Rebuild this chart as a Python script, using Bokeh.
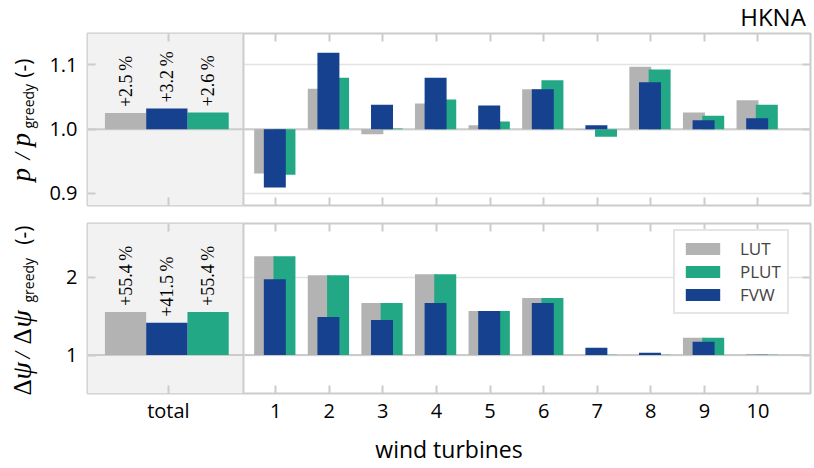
import numpy as np
from bokeh.plotting import figure
from bokeh.layouts import column, row
from bokeh.core.properties import value
from bokeh.models import (Range1d, FixedTicker, LinearAxis, BoxAnnotation, Span,
                          Legend, LegendItem, LabelSet, ColumnDataSource,
                          PrintfTickFormatter)
from bokeh.embed import file_html
from bokeh.resources import INLINE

# ---------------- data ----------------
turbines = ["1", "2", "3", "4", "5", "6", "7", "8", "9", "10"]
methods = ["LUT", "PLUT", "FVW"]

power_total = {"LUT": 1.025, "PLUT": 1.026, "FVW": 1.032}
power_LUT = [0.931, 1.063, 0.992, 1.040, 1.006, 1.062, 0.999, 1.097, 1.026, 1.045]
power_PLUT = [0.929, 1.080, 1.001, 1.046, 1.012, 1.076, 0.988, 1.093, 1.021, 1.038]
power_FVW = [0.909, 1.119, 1.038, 1.080, 1.037, 1.062, 1.006, 1.073, 1.014, 1.017]

yaw_total = {"LUT": 1.554, "PLUT": 1.554, "FVW": 1.415}
yaw_LUT = [2.268, 2.026, 1.668, 2.038, 1.566, 1.732, 1.000, 1.000, 1.221, 1.000]
yaw_PLUT = [2.268, 2.026, 1.668, 2.038, 1.566, 1.732, 1.003, 1.003, 1.221, 1.005]
yaw_FVW = [1.974, 1.489, 1.451, 1.668, 1.566, 1.668, 1.094, 1.030, 1.170, 1.005]

power_ticks = [0.9, 1.0, 1.1]
yaw_ticks = [1, 2]
total_label = "total"
title_text = "HKNA"
xlabel = "wind turbines"

colors = {"LUT": "#b3b3b3", "PLUT": "#22a884", "FVW": "#15418f"}

# ---------------- layout constants ----------------
FONT = "Open Sans"
SERIF = "Liberation Serif"
GRID = "#cccccc"
xpos = np.arange(1, len(turbines) + 1)
total_x = -1.0
div_x = 0.40
bar_w = 0.41
offs = {"LUT": -0.195, "PLUT": 0.165, "FVW": -0.015}
tot_w = 0.77
tot_offs = {"LUT": -0.80, "FVW": -0.03, "PLUT": 0.74}
x_range = Range1d(-2.51, 10.98)
LBL_W = 40
MAIN_W = 773
H0, H1, H2 = 31, 183, 253


def blank_fig(width, height):
    f = figure(width=width, height=height, x_range=Range1d(0, width),
               y_range=Range1d(0, height), output_backend="svg", toolbar_location=None,
               min_border=0, x_axis_location=None, y_axis_location=None)
    f.outline_line_color = None
    f.xgrid.grid_line_color = None
    f.ygrid.grid_line_color = None
    f.background_fill_color = "white"
    f.border_fill_color = "white"
    return f


def make_panel(height, ylo, yhi, yticks, border_top, border_bottom, show_x_labels, yfmt=None):
    p = figure(width=MAIN_W, height=height, x_range=x_range, y_range=Range1d(ylo, yhi),
               output_backend="svg", toolbar_location=None,
               min_border_left=47, min_border_right=3,
               min_border_top=border_top, min_border_bottom=border_bottom,
               x_axis_location=None, y_axis_location=None)
    p.outline_line_color = GRID
    p.outline_line_width = 2
    p.background_fill_color = "white"
    p.border_fill_color = "white"
    xt = FixedTicker(ticks=[total_x] + list(xpos))
    yt = FixedTicker(ticks=yticks)
    for side in ["left", "right", "above", "below"]:
        ax = LinearAxis(ticker=yt if side in ("left", "right") else xt)
        ax.axis_line_color = None
        ax.major_tick_in = 8
        ax.major_tick_out = 0
        ax.major_tick_line_color = GRID
        ax.major_tick_line_width = 2
        ax.minor_tick_line_color = None
        ax.major_label_text_font = FONT
        ax.major_label_text_font_size = "20px"
        ax.major_label_text_color = "black"
        if side == "left":
            ax.major_label_standoff = 10
            if yfmt is not None:
                ax.formatter = PrintfTickFormatter(format=yfmt)
        elif side == "below" and show_x_labels:
            ax.major_label_standoff = 3
            ax.major_label_overrides = {total_x: total_label}
            ax.axis_label = xlabel
            ax.axis_label_text_font = FONT
            ax.axis_label_text_font_size = "23px"
            ax.axis_label_text_font_style = "normal"
            ax.axis_label_text_color = "black"
            ax.axis_label_standoff = 6
        else:
            ax.major_label_text_font_size = "0px"
            ax.major_label_standoff = 0
        p.add_layout(ax, side)
    p.xgrid.grid_line_color = None
    p.ygrid.ticker = yt
    p.ygrid.grid_line_color = "#e3e3e3"
    p.ygrid.grid_line_width = 1.5
    p.add_layout(BoxAnnotation(right=div_x, fill_color="#f2f2f2", fill_alpha=1,
                               line_color=None, level="underlay"))
    p.add_layout(Span(location=1.0, dimension="width", line_color=GRID,
                      line_width=2, level="underlay"))
    p.add_layout(Span(location=div_x, dimension="height", line_color=GRID,
                      line_width=2, level="underlay"))
    return p


def add_bars(p, totals, series):
    rends = {}
    for m in methods:
        r = p.vbar(x=list(xpos + offs[m]), width=bar_w, bottom=1.0, top=series[m],
                   fill_color=colors[m], line_color=None)
        p.vbar(x=[total_x + tot_offs[m]], width=tot_w, bottom=1.0, top=[totals[m]],
               fill_color=colors[m], line_color=None)
        rends[m] = r
    src = ColumnDataSource(dict(
        x=[total_x + tot_offs[m] for m in methods],
        y=[totals[m] for m in methods],
        t=["+%.1f\u2009%%" % ((totals[m] - 1) * 100) for m in methods]))
    p.add_layout(LabelSet(x="x", y="y", text="t", source=src, angle=np.pi / 2,
                          text_align="left", text_baseline="middle", y_offset=6,
                          text_font=FONT, text_font_size="18px", text_color="black"))
    return rends


def label_fig(height, parts):
    # parts: text, baseline x (page px), start/end y (page px from fig top), font, size, style, align
    f = blank_fig(LBL_W, height)
    for txt, bx, y, font, size, style, align in parts:
        mid_x = bx - 0.3 * size
        f.text(x=[mid_x], y=[y], text=[txt], angle=np.pi / 2, text_font=value(font),
               text_font_size="%dpx" % size, text_font_style=style, text_align=align,
               text_baseline="middle", text_color="black")
    return f


# header with the title (page y 0..31)
h0 = blank_fig(MAIN_W, H0)
h0.text(x=[MAIN_W - 5], y=[H0 - 15.5], text=[title_text], text_align="right",
        text_baseline="middle", text_font=value(FONT), text_font_size="24px",
        text_color="black")

# top panel: frame page y 33..205
p1 = make_panel(H1, 0.881, 1.149, power_ticks, 2, 9, False, yfmt="%.1f")
add_bars(p1, power_total, {"LUT": power_LUT, "PLUT": power_PLUT, "FVW": power_FVW})

# bottom panel: frame page y 223..394
p2 = make_panel(H2, 0.506, 2.69, yaw_ticks, 9, 73, True)
rends = add_bars(p2, yaw_total, {"LUT": yaw_LUT, "PLUT": yaw_PLUT, "FVW": yaw_FVW})
legend = Legend(items=[LegendItem(label=m, renderers=[rends[m]]) for m in methods],
                location=(586, 79))
legend.border_line_color = GRID
legend.border_line_width = 2
legend.background_fill_color = "white"
legend.background_fill_alpha = 1
legend.label_text_font = FONT
legend.label_text_font_size = "17px"
legend.glyph_width = 43
legend.glyph_height = 15
legend.label_height = 22
legend.label_standoff = 16
legend.spacing = 0
legend.padding = 6
legend.margin = 0
p2.add_layout(legend)

# y-axis titles (page coordinates -> label-figure coordinates)
BX, SX = 29, 32
top_h = H0 + H1
l1 = label_fig(top_h, [
    ("p", BX, top_h - 181, SERIF, 27, "italic", "left"),
    ("/", BX, top_h - 159, SERIF, 23, "italic", "left"),
    ("p", BX, top_h - 146, SERIF, 27, "italic", "left"),
    ("greedy", SX, top_h - 128, FONT, 14, "normal", "left"),
    ("(-)", BX, top_h - 58, FONT, 21, "normal", "right"),
])
off2 = top_h + H2
l2 = label_fig(H2, [
    ("\u0394", BX, off2 - 395, SERIF, 25, "normal", "left"),
    ("\u03c8", BX, off2 - 379, SERIF, 28, "italic", "left"),
    ("/", BX, off2 - 358, SERIF, 23, "italic", "left"),
    ("\u0394", BX, off2 - 344, SERIF, 25, "normal", "left"),
    ("\u03c8", BX, off2 - 327, SERIF, 28, "italic", "left"),
    ("greedy", SX, off2 - 302, FONT, 14, "normal", "left"),
    ("(-)", BX, off2 - 225, FONT, 21, "normal", "right"),
])

layout = row(column(l1, l2, spacing=0), column(h0, p1, p2, spacing=0), spacing=0)
open("out.html", "w").write(file_html(layout, INLINE))
